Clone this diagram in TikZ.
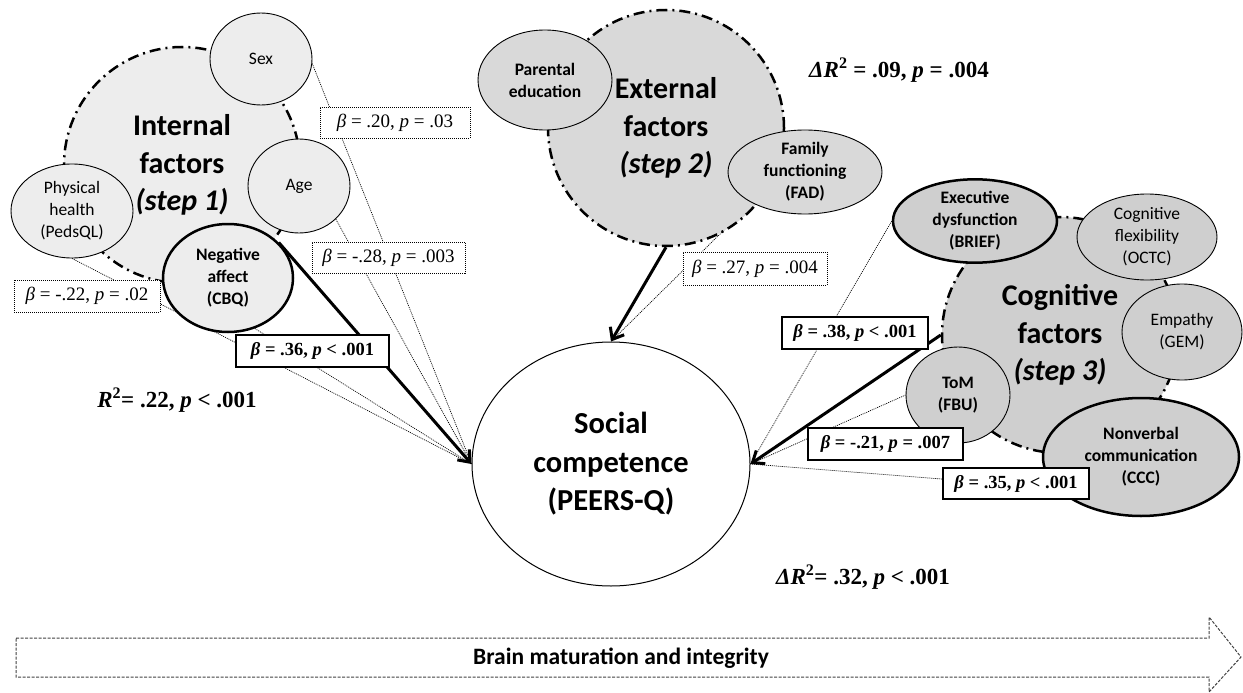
\documentclass[tikz,border=0pt]{standalone}
\usepackage{fontspec}
\setmainfont{Carlito}
\newfontfamily\serifb{Liberation Serif}
\usetikzlibrary{shapes.geometric,arrows.meta,backgrounds}

\definecolor{intfill}{HTML}{EDEDED}
\definecolor{extfill}{HTML}{D9D9D9}
\definecolor{cogfill}{HTML}{CFCFCF}

\tikzset{
 grp/.style={circle, draw, line width=2.5pt, dash pattern=on 11pt off 5pt on 2pt off 5pt, inner sep=0pt, align=center, font=\fontsize{30}{37.5}\selectfont\bfseries},
 var/.style={ellipse, draw, line width=0.9pt, inner sep=0pt, align=center, font=\fontsize{17.5}{22}\selectfont},
 varb/.style={var, line width=2.5pt},
 dbox/.style={draw, line width=0.8pt, dash pattern=on 1pt off 1pt, fill=white, inner sep=0pt, font=\serifb\fontsize{19}{22}\selectfont},
 bbox/.style={draw, line width=2.4pt, fill=white, inner sep=0pt, font=\serifb\fontsize{18.5}{21}\selectfont\bfseries},
 weak/.style={line width=0.7pt, dash pattern=on 1pt off 1pt},
 strong/.style={line width=3pt, -{Straight Barb[length=10pt,width=16pt]}},
 stat/.style={font=\serifb\fontsize{23}{26}\selectfont\bfseries, inner sep=0pt},
}

\begin{document}
\begin{tikzpicture}[x=1pt,y=-1pt]
\useasboundingbox (0,0) rectangle (1243,693);

% group circles
\node[grp, fill=intfill, minimum size=236pt] (int) at (182,165) {Internal\\factors\\\textit{(step 1)}};
\node[grp, fill=extfill, minimum size=236pt] (ext) at (666,128) {External\\factors\\\textit{(step 2)}};
\node[grp, fill=cogfill, minimum size=236pt] (cog) at (1060,335) {Cognitive\\factors\\\textit{(step 3)}};

% internal variables
\node[var, fill=intfill, minimum width=102pt, minimum height=92pt] (sex) at (261,59) {Sex};
\node[var, fill=intfill, minimum width=102pt, minimum height=94pt] (age) at (299,186) {Age};
\node[var, fill=intfill, minimum width=122pt, minimum height=94pt] (phys) at (72,211) {Physical\\health\\(PedsQL)};
\node[varb, fill=intfill, minimum width=130pt, minimum height=108pt, font=\fontsize{17.5}{22}\selectfont\bfseries] (neg) at (228,278) {Negative\\affect\\(CBQ)};

% external variables
\node[var, fill=extfill, minimum width=134pt, minimum height=100pt, font=\fontsize{17.5}{22}\selectfont\bfseries] (par) at (545,80) {Parental\\education};
\node[var, fill=extfill, minimum width=154pt, minimum height=84pt, font=\fontsize{17.5}{22}\selectfont\bfseries] (fad) at (805,172) {Family\\functioning\\(FAD)};

% cognitive variables
\node[varb, fill=cogfill, minimum width=164pt, minimum height=78pt, font=\fontsize{17.5}{22}\selectfont\bfseries] (brief) at (975,221) {Executive\\dysfunction\\(BRIEF)};
\node[var, fill=cogfill, minimum width=140pt, minimum height=86pt] (octc) at (1147,237) {Cognitive\\flexibility\\(OCTC)};
\node[var, fill=cogfill, minimum width=120pt, minimum height=96pt] (gem) at (1182,332) {Empathy\\(GEM)};
\node[var, fill=cogfill, minimum width=104pt, minimum height=96pt, font=\fontsize{17.5}{22}\selectfont\bfseries] (tom) at (958,395) {ToM\\(FBU)};
\node[varb, fill=cogfill, minimum width=196pt, minimum height=118pt, font=\fontsize{17.5}{22}\selectfont\bfseries] (ccc) at (1141,457) {Nonverbal\\communication\\(CCC)};

% outcome
\node[ellipse, draw, line width=1pt, fill=white, minimum width=278pt, minimum height=244pt, inner sep=0pt, align=center, font=\fontsize{30.5}{38.5}\selectfont\bfseries] (soc) at (611,464) {Social\\competence\\(PEERS-Q)};

% coefficient boxes
\node[dbox, minimum width=150pt, minimum height=31pt] (b20) at (395,122.5) {{\itshape β} = .20, {\itshape p} = .03};
\node[dbox, minimum width=153pt, minimum height=31pt] (b28) at (388.5,257.5) {{\itshape β} = -.28, {\itshape p} = .003};
\node[dbox, minimum width=146pt, minimum height=32pt] (b22) at (87,296) {{\itshape β} = -.22, {\itshape p} = .02};
\node[dbox, minimum width=144pt, minimum height=33pt] (b27) at (755,268.5) {{\itshape β} = .27, {\itshape p} = .004};
\node[bbox, minimum width=153pt, minimum height=32pt] (b36) at (312.5,351) {{\itshape β} = .36, {\itshape p} < .001};
\node[bbox, minimum width=146pt, minimum height=32pt] (b38) at (855,333) {{\itshape β} = .38, {\itshape p} < .001};
\node[bbox, minimum width=155pt, minimum height=32pt] (b21) at (885.5,444) {{\itshape β} = -.21, {\itshape p} = .007};
\node[bbox, minimum width=146pt, minimum height=31pt] (b35) at (1016,483.5) {{\itshape β} = .35, {\itshape p} < .001};

% model statistics
\node[stat] (r1) at (177,400) {\textit{R}\textsuperscript{2}= .22, \textit{p} < .001};
\node[stat] (r2) at (899,70) {\textit{ΔR}\textsuperscript{2} = .09, \textit{p} = .004};
\node[stat] (r3) at (863,577) {\textit{ΔR}\textsuperscript{2}= .32, \textit{p} < .001};

% connectors
\begin{scope}[on background layer]
\draw[weak] (sex.-5) -- (soc.west);
\draw[weak] (age.-42) -- (soc.west);
\draw[weak] (phys.-90) -- (soc.west);
\draw[weak] (neg.-62) -- (soc.west);
\draw[strong] (neg.35) -- (soc.west);
\draw[weak] (fad.-150) -- (soc.north);
\draw[strong] (ext.south) -- (soc.north);
\draw[weak] (brief.west) -- (soc.east);
\draw[weak] (tom.west) -- (soc.east);
\draw[weak] (ccc.-160) -- (soc.east);
\draw[strong] (cog.west) -- (soc.east);
\end{scope}

% brain maturation arrow
\draw[line width=1pt, draw=black!75, dash pattern=on 3pt off 1.5pt]
  (16,638) -- (1209,638) -- (1209,617) -- (1241,657) -- (1209,692) -- (1209,677) -- (16,677) -- cycle;
\node[font=\fontsize{23.5}{27}\selectfont\bfseries] (brain) at (621,658) {Brain maturation and integrity};
\end{tikzpicture}
\end{document}
